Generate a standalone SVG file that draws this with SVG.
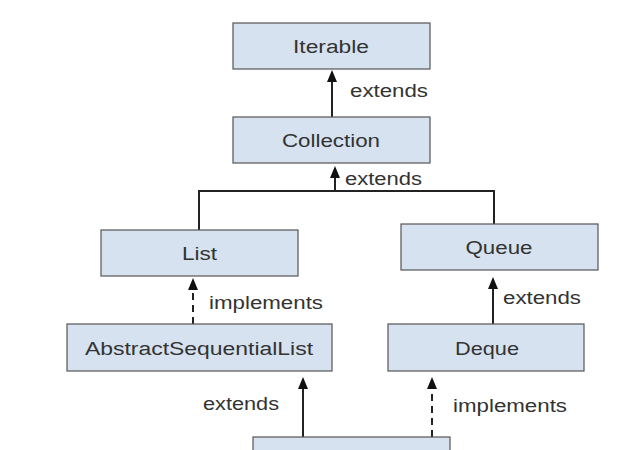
<svg xmlns="http://www.w3.org/2000/svg" width="644" height="450" viewBox="0 0 644 450">
<style>
.box{fill:#d6e2f0;stroke:#555;stroke-width:1.2}
.t{font-family:"Liberation Sans",Arial,sans-serif;font-size:18px;fill:#333;text-anchor:middle}
.l{font-family:"Liberation Sans",Arial,sans-serif;font-size:18px;fill:#333}
.c{fill:none;stroke:#222;stroke-width:2}
.d{stroke-dasharray:7,5}
</style>
<defs>
<marker id="ah" viewBox="0 0 12 10" refX="10" refY="5" markerWidth="12" markerHeight="10" markerUnits="userSpaceOnUse" orient="auto">
<path d="M0,0 L12,5 L0,10 Z" fill="#111"/>
</marker>
</defs>
<rect width="644" height="450" fill="#fff"/>
<g id="connectors">
<line class="c" x1="332" y1="117" x2="332" y2="72" marker-end="url(#ah)"/>
<path class="c" d="M199,230 V191 H494 V224"/>
<line class="c" x1="335" y1="191" x2="335" y2="168" marker-end="url(#ah)"/>
<line class="c d" x1="193" y1="324" x2="193" y2="280" marker-end="url(#ah)"/>
<line class="c" x1="493" y1="324" x2="493" y2="279" marker-end="url(#ah)"/>
<line class="c" x1="303" y1="437" x2="303" y2="379" marker-end="url(#ah)"/>
<line class="c d" x1="432" y1="437" x2="432" y2="379" marker-end="url(#ah)"/>
<text class="l" x="350" y="97" textLength="78" lengthAdjust="spacingAndGlyphs">extends</text>
<text class="l" x="345" y="185" textLength="77" lengthAdjust="spacingAndGlyphs">extends</text>
<text class="l" x="209" y="309" textLength="114" lengthAdjust="spacingAndGlyphs">implements</text>
<text class="l" x="503" y="304" textLength="78" lengthAdjust="spacingAndGlyphs">extends</text>
<text class="l" x="203" y="410" textLength="76" lengthAdjust="spacingAndGlyphs">extends</text>
<text class="l" x="453" y="412" textLength="114" lengthAdjust="spacingAndGlyphs">implements</text>
</g>
<g id="iterable">
<rect class="box" x="233" y="23" width="197" height="46"/>
<text class="t" x="331" y="53" textLength="76" lengthAdjust="spacingAndGlyphs">Iterable</text>
</g>
<g id="collection">
<rect class="box" x="233" y="117" width="197" height="46"/>
<text class="t" x="331" y="147" textLength="98" lengthAdjust="spacingAndGlyphs">Collection</text>
</g>
<g id="list">
<rect class="box" x="101" y="230" width="197" height="46"/>
<text class="t" x="199.5" y="260" textLength="35" lengthAdjust="spacingAndGlyphs">List</text>
</g>
<g id="queue">
<rect class="box" x="401" y="224" width="197" height="46"/>
<text class="t" x="499" y="254" textLength="67" lengthAdjust="spacingAndGlyphs">Queue</text>
</g>
<g id="abstractsequentiallist">
<rect class="box" x="67" y="324" width="265" height="47"/>
<text class="t" x="199" y="355" textLength="228" lengthAdjust="spacingAndGlyphs">AbstractSequentialList</text>
</g>
<g id="deque">
<rect class="box" x="388" y="324" width="196" height="47"/>
<text class="t" x="487" y="355" textLength="64" lengthAdjust="spacingAndGlyphs">Deque</text>
</g>
<g id="linkedlist">
<rect class="box" x="253" y="437" width="197" height="30"/>
</g>
</svg>
